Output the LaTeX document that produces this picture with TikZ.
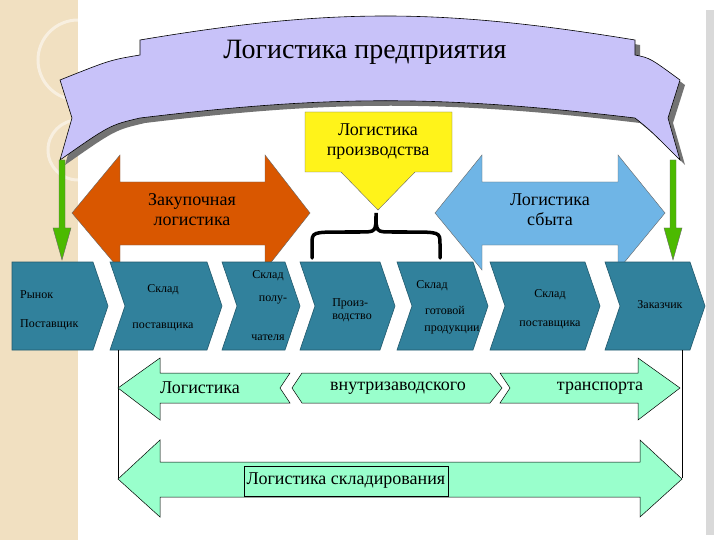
\documentclass[tikz,border=0pt]{standalone}
\usepackage{fontspec}
\setmainfont{Liberation Serif}
\definecolor{mintc}{HTML}{99FFCC}
\definecolor{chevc}{HTML}{31819C}
\begin{document}
\begin{tikzpicture}[x=1pt,y=-1pt,
 chev/.style={fill=chevc,draw=chevc!70!black,line width=0.6pt},
 ctext/.style={font=\fontsize{12}{13}\selectfont,inner sep=0pt},
 mint/.style={fill=mintc,draw=black,line width=0.5pt},
 big/.style={font=\fontsize{18}{20}\selectfont,inner sep=0pt}]
\useasboundingbox (0,0) rectangle (720,540);
\fill[white] (0,0) rectangle (720,540);
% left decorative strip
\fill[orange!20!yellow!25!brown!30] (0,0) rectangle (78,540);
\draw[white,opacity=0.5,line width=3pt] (78,60) circle (40);
\draw[white,opacity=0.5,line width=3pt] (78,150) circle (30);
\fill[cyan!30] (80,122) circle (4);
\fill[black!15] (706,10) rectangle (714,535);
% banner
\begin{scope}[shift={(5,5)}]
\fill[black!55] (60,80) .. controls (110,60) .. (140,55) -- (140,40) .. controls (330,8) and (440,8) .. (635,40) -- (635,55) .. controls (650,58) .. (680,80) -- (668,118) -- (680,160) .. controls (650,130) .. (635,118) .. controls (440,95) and (330,95) .. (140,118) .. controls (110,125) .. (60,160) -- (72,118) -- cycle;
\end{scope}
\draw[fill=blue!20!white!95!violet,draw=black,line width=0.6pt] (60,80) .. controls (110,60) .. (140,55) -- (140,40) .. controls (330,8) and (440,8) .. (635,40) -- (635,55) .. controls (650,58) .. (680,80) -- (668,118) -- (680,160) .. controls (650,130) .. (635,118) .. controls (440,95) and (330,95) .. (140,118) .. controls (110,125) .. (60,160) -- (72,118) -- cycle;
\node[font=\fontsize{28}{30}\selectfont,inner sep=0pt] (title) at (365,52) {Логистика предприятия};
% green arrows
\foreach \x in {62,673}{
\draw[fill=green!55!black!60!lime,draw=black!60,line width=0.4pt] (\x-3,160) -- (\x+3,160) -- (\x+3,228) -- (\x+9,228) -- (\x,260) -- (\x-9,228) -- (\x-3,228) -- cycle;}
% orange and blue double arrows
\draw[fill=orange!80!red!85!black,draw=black!60] (72,213) -- (120,155) -- (120,182) -- (265,182) -- (265,155) -- (310,213) -- (265,270) -- (265,245) -- (120,245) -- (120,270) -- cycle;
\node[big,align=center] (zak) at (192,210) {Закупочная\\логистика};
\draw[fill=cyan!50!white!85!blue,draw=black!60] (435,213) -- (482,155) -- (482,182) -- (618,182) -- (618,155) -- (665,213) -- (618,270) -- (618,245) -- (482,245) -- (482,270) -- cycle;
\node[big,align=center] (sbyt) at (550,210) {Логистика\\сбыта};
% yellow arrow
\draw[fill=yellow!90!white,draw=black!60] (305,112) -- (452,112) -- (452,172) -- (415,172) -- (378,210) -- (341,172) -- (305,172) -- cycle;
\node[big,align=center] (proiz) at (378,142) {Логистика\\производства};
% brace
\draw[line width=3.5pt,line cap=round] (312,258) -- (312,244) .. controls (312,232) .. (345,232) -- (360,232) .. controls (376,232) .. (376,213) .. controls (376,232) .. (392,232) -- (407,232) .. controls (440,232) .. (440,244) -- (440,258);
% chevrons
\draw[chev] (12,262) -- (93,262) -- (108,306) -- (93,350) -- (12,350) -- cycle;
\foreach \a/\b in {110/222,222/300,300/395,397/488,490/600,605/705}{
\draw[chev] (\a,262) -- (\b-15,262) -- (\b,306) -- (\b-15,350) -- (\a,350) -- (\a+15,306) -- cycle;}
\node[ctext,anchor=west] (c1a) at (20,295) {Рынок};
\node[ctext,anchor=west] (c1b) at (20,325) {Поставщик};
\node[ctext] (c2a) at (163,290) {Склад};
\node[ctext] (c2b) at (163,327) {поставщика};
\node[ctext] (c3a) at (268,276) {Склад};
\node[ctext] (c3b) at (273,300) {полу-};
\node[ctext] (c3c) at (268,338) {чателя};
\node[ctext,align=left] (c4) at (352,310) {Произ-\\водство};
\node[ctext] (c5a) at (432,286) {Склад};
\node[ctext] (c5b) at (445,310) {готовой};
\node[ctext] (c5c) at (452,330) {продукции};
\node[ctext] (c6a) at (550,295) {Склад};
\node[ctext] (c6b) at (550,325) {поставщика};
\node[ctext] (c7) at (660,305) {Заказчик};
% thin lines
\coordinate (l1) at (118,350); \coordinate (l2) at (118,478);
\coordinate (r1) at (682,350); \coordinate (r2) at (682,478);
\draw[black,line width=0.5pt] (l1) -- (l2);
\draw[black,line width=0.5pt] (r1) -- (r2);
% transport arrows
\draw[mint] (118,388) -- (160,358) -- (160,373) -- (290,373) -- (280,388) -- (290,403) -- (160,403) -- (160,420) -- cycle;
\draw[mint] (302,373) -- (490,373) -- (502,388) -- (490,403) -- (302,403) -- (292,388) -- cycle;
\draw[mint] (500,373) -- (638,373) -- (638,358) -- (680,388) -- (638,420) -- (638,403) -- (500,403) -- (510,388) -- cycle;
\node[big] (t1) at (200,388) {Логистика};
\node[big] (t2) at (398,388) {внутризаводского};
\node[big] (t3) at (600,388) {транспорта};
% storage arrow
\draw[mint] (118,479) -- (160,440) -- (160,462) -- (640,462) -- (640,440) -- (682,479) -- (640,517) -- (640,497) -- (160,497) -- (160,517) -- cycle;
\node[big,draw=black,fill=mintc,inner sep=3pt,minimum height=30pt] (skl) at (346,481) {Логистика складирования};
\end{tikzpicture}
\end{document}
